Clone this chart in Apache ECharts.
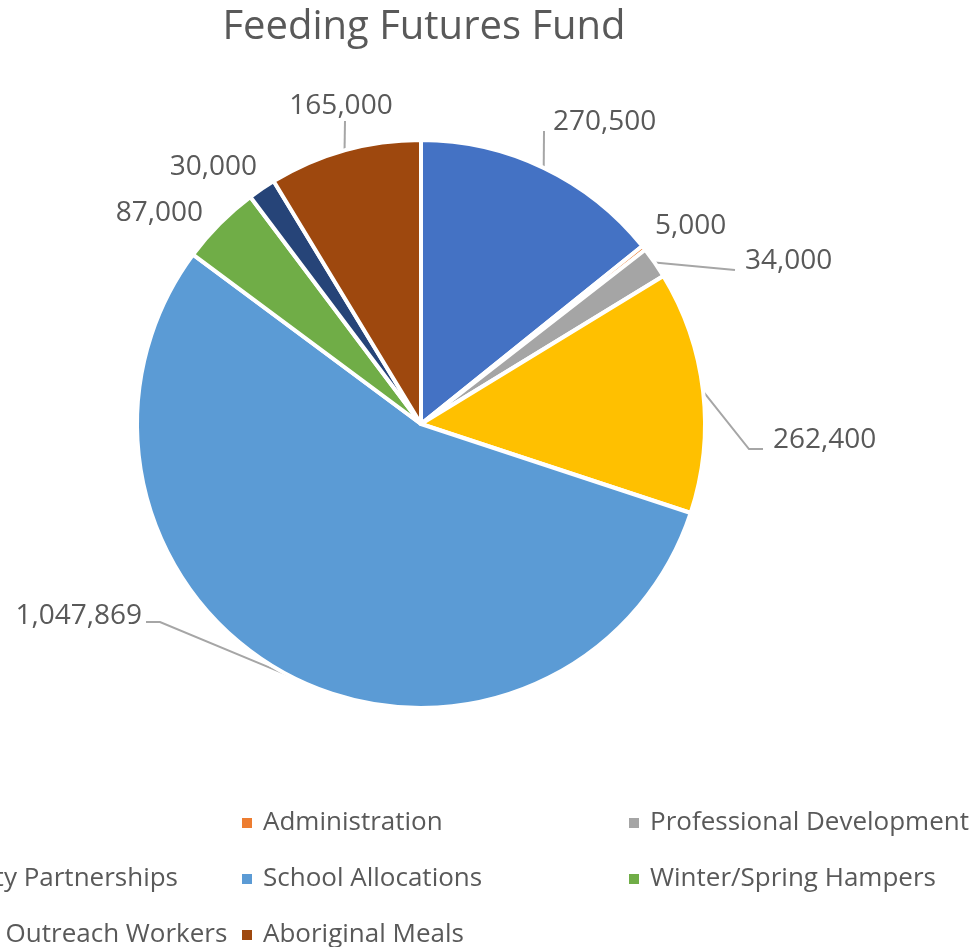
<!DOCTYPE html>
<html>
<head>
<meta charset="utf-8">
<title>Feeding Futures Fund</title>
<script src="https://cdn.jsdelivr.net/npm/echarts@6/dist/echarts.min.js"></script>
<style>
  html, body { margin: 0; padding: 0; background: #ffffff; }
  #chart { width: 971px; height: 947px; }
</style>
</head>
<body>
<div id="chart"></div>
<script>
// chart data
const categories = [
  'Staffing',
  'Administration',
  'Professional Development',
  'Community Partnerships',
  'School Allocations',
  'Winter/Spring Hampers',
  'Aboriginal Outreach Workers',
  'Aboriginal Meals'
]
const amounts = [270500, 5000, 34000, 262400, 1047869, 87000, 30000, 165000]
const colors = ['#4472C4', '#ED7D31', '#A5A5A5', '#FFC000', '#5B9BD5', '#70AD47', '#264478', '#9E480E']
// legend columns (Excel lays the legend out row by row, 3 per row)
const legendCol1 = [categories[0], categories[3], categories[6]]
const legendCol2 = [categories[1], categories[4], categories[7]]
const legendCol3 = [categories[2], categories[5]]

const textGrey = '#595959'
const fontFamily = '"Open Sans", "Noto Sans", sans-serif'

// where Excel put each data label (x, y of the anchor), and the bend of its leader line
const labelSpots = [
  { x: 553, y: 122, align: 'left', bend: [[544, 131]] },
  { x: 655, y: 226, align: 'left', bend: null },
  { x: 745, y: 261, align: 'left', bend: [[735, 270]] },
  { x: 773, y: 440, align: 'left', bend: [[749, 449], [763, 449]] },
  { x: 142, y: 616, align: 'right', bend: [[160, 622], [146, 622]] },
  { x: 203, y: 213, align: 'right', bend: null },
  { x: 257, y: 167, align: 'right', bend: null },
  { x: 341, y: 106, align: 'center', bend: [[345, 121]] }
]

function makeLegend(names, left) {
  return {
    data: names,
    orient: 'vertical',
    left: left,
    top: 810,
    height: 200,
    icon: 'rect',
    itemWidth: 12,
    itemHeight: 12,
    itemGap: 30,
    padding: 0,
    textStyle: {
      color: textGrey,
      fontSize: 26,
      lineHeight: 24,
      fontFamily: fontFamily,
      padding: [0, 0, 0, 5]
    }
  }
}

let myChart = echarts.init(document.getElementById('chart'))
myChart.setOption({
  animation: false,
  color: colors,
  title: {
    text: 'Feeding Futures Fund',
    left: 419,
    textAlign: 'center',
    top: 3,
    textStyle: {
      color: textGrey,
      fontSize: 40,
      fontWeight: 'normal',
      fontFamily: fontFamily
    }
  },
  legend: [
    makeLegend(legendCol1, -147),
    makeLegend(legendCol2, 240),
    makeLegend(legendCol3, 627)
  ],
  series: [
    {
      type: 'pie',
      center: [421, 424],
      radius: 284,
      startAngle: 90,
      clockwise: true,
      itemStyle: {
        borderColor: '#ffffff',
        borderWidth: 4
      },
      label: {
        show: true,
        position: 'outside',
        color: textGrey,
        fontSize: 28,
        fontFamily: fontFamily,
        formatter: p => p.value.toLocaleString('en-US')
      },
      labelLine: {
        show: true,
        length: 15,
        length2: 10,
        lineStyle: { color: '#A6A6A6', width: 2 }
      },
      labelLayout: params => {
        const spot = labelSpots[params.dataIndex]
        const out = {
          x: spot.x,
          y: spot.y,
          align: spot.align,
          verticalAlign: 'middle'
        }
        if (spot.bend && params.labelLinePoints) {
          const start = params.labelLinePoints[0]
          const pts = [start].concat(spot.bend)
          while (pts.length < 3) pts.push(pts[pts.length - 1])
          out.labelLinePoints = pts
        }
        return out
      },
      data: categories.map((name, i) => ({
        name: name,
        value: amounts[i],
        labelLine: { show: labelSpots[i].bend != null }
      }))
    }
  ]
})
</script>
</body>
</html>
